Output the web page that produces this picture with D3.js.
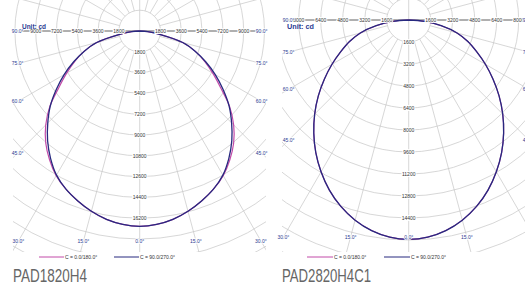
<!DOCTYPE html>
<html>
<head>
<meta charset="utf-8">
<style>
  body { margin: 0; background: #fff; }
  svg { display: block; }
  text { font-family: "Liberation Sans", Arial, sans-serif; }
  .grid line, .grid circle { stroke: #c6c6c6; stroke-width: 0.7; fill: none; }
</style>
</head>
<body>
<svg id="chart" width="525" height="284"></svg>
<script src="https://cdn.jsdelivr.net/npm/d3@7/dist/d3.min.js"></script>
<script>
// gamma angles (deg from nadir) and intensities in cd
var gammaAngles = [0, 5, 10, 15, 20, 25, 30, 35, 40, 45, 50, 55, 60, 65, 70, 75, 80, 85, 90];
var pad1820_c0  = [16900, 16800, 16550, 16150, 15650, 15100, 14450, 13600, 12650, 11500, 10150, 8550, 7300, 6200, 5100, 3850, 1900, 700, 0];
var pad1820_c90 = [16900, 16800, 16550, 16150, 15650, 15100, 14400, 13450, 12400, 11250, 10100, 8800, 7550, 6300, 5100, 3850, 1900, 700, 0];
var pad2820_c0  = [15950, 15850, 15550, 15070, 14430, 13650, 12750, 11780, 10740, 9670, 8580, 7480, 6440, 5450, 4580, 3640, 2400, 1160, 0];
var pad2820_c90 = [15950, 15850, 15550, 15070, 14430, 13650, 12750, 11780, 10740, 9670, 8580, 7480, 6440, 5450, 4580, 3640, 2400, 1160, 0];

var ringsA = [1800, 3600, 5400, 7200, 9000, 10800, 12600, 14400, 16200];
var ringsB = [1600, 3200, 4800, 6400, 8000, 9600, 11200, 12800, 14400];
var bottomAngles = [-30, -15, 0, 15, 30];
var sideAngles = [45, 60, 75, 90];
var legendLabels = ["C = 0.0/180.0°", "C = 90.0/270.0°"];
var models = ["PAD1820H4", "PAD2820H4C1"];

var navy = "#27297f", magenta = "#c24aa8", labelBlue = "#2a3a92";

var svg = d3.select("#chart");
var defs = svg.append("defs");

function drawPolar(id, cfg, rings, c0, c90, model) {
  var step = rings[0];
  var r = d3.scaleLinear().domain([0, step]).range([0, cfg.px]);
  var cx = cfg.cx, cy = cfg.cy;

  defs.append("clipPath").attr("id", "clip" + id)
    .append("rect")
    .attr("x", cfg.x0).attr("y", 0)
    .attr("width", cfg.x1 - cfg.x0).attr("height", cfg.y1);

  var g = svg.append("g");
  var grid = g.append("g").attr("class", "grid").attr("clip-path", "url(#clip" + id + ")");

  // rings
  grid.selectAll("circle")
    .data(d3.range(1, 14).map(function(k) { return k * step; }))
    .enter().append("circle")
    .attr("cx", cx).attr("cy", cy)
    .attr("r", function(d) { return r(d); });

  // radial lines every 15 deg
  var spokes = d3.range(-165, 181, 15);
  grid.selectAll("line.spoke")
    .data(spokes)
    .enter().append("line")
    .attr("class", "spoke")
    .attr("x1", function(a) { var r0 = a % 90 === 0 ? 0 : r(step); return cx + r0 * Math.sin(a * Math.PI / 180); })
    .attr("y1", function(a) { var r0 = a % 90 === 0 ? 0 : r(step); return cy + r0 * Math.cos(a * Math.PI / 180); })
    .attr("x2", function(a) { return cx + 400 * Math.sin(a * Math.PI / 180); })
    .attr("y2", function(a) { return cy + 400 * Math.cos(a * Math.PI / 180); });

  // horizontal axis
  g.append("line")
    .attr("x1", cfg.x0 + 2).attr("x2", cfg.x1 - 2)
    .attr("y1", cy).attr("y2", cy)
    .attr("stroke", "#555").attr("stroke-width", 0.8);

  // curves
  var line = d3.lineRadial()
    .angle(function(d) { return Math.PI - d[0] * Math.PI / 180; })
    .radius(function(d) { return r(d[1]); })
    .curve(d3.curveCatmullRom);

  function both(vals) {
    var pts = [];
    for (var i = gammaAngles.length - 1; i > 0; i--) pts.push([-gammaAngles[i], vals[i]]);
    for (var j = 0; j < gammaAngles.length; j++) pts.push([gammaAngles[j], vals[j]]);
    return pts;
  }

  var curves = g.append("g").attr("transform", "translate(" + cx + "," + cy + ")");
  curves.append("path").attr("d", line(both(c0)))
    .attr("fill", "none").attr("stroke", magenta).attr("stroke-width", 1.2);
  curves.append("path").attr("d", line(both(c90)))
    .attr("fill", "none").attr("stroke", navy).attr("stroke-width", 1.3);

  // ring labels along the vertical axis
  g.selectAll("text.rv")
    .data(rings)
    .enter().append("text")
    .attr("class", "rv")
    .attr("x", cx).attr("y", function(d) { return cy + r(d) + 1.8; })
    .attr("text-anchor", "middle")
    .attr("font-size", 5).attr("fill", "#333")
    .attr("stroke", "#fff").attr("stroke-width", 2).attr("paint-order", "stroke")
    .text(function(d) { return d; });

  // ring labels along the horizontal axis
  var hvals = rings.slice(0, 5);
  var hdata = hvals.map(function(d) { return [-1, d]; }).concat(hvals.map(function(d) { return [1, d]; }));
  g.selectAll("text.rh")
    .data(hdata)
    .enter().append("text")
    .attr("class", "rh")
    .attr("x", function(d) { return cx + d[0] * r(d[1]); }).attr("y", cy + 1.8)
    .attr("text-anchor", "middle")
    .attr("font-size", 5).attr("fill", "#333")
    .attr("stroke", "#fff").attr("stroke-width", 2).attr("paint-order", "stroke")
    .text(function(d) { return d[1]; });

  // angle labels
  var side = [];
  sideAngles.forEach(function(a) { side.push([-1, a]); side.push([1, a]); });
  g.selectAll("text.as")
    .data(side)
    .enter().append("text")
    .attr("class", "as")
    .attr("x", function(d) { return cx + d[0] * cfg.side; })
    .attr("y", function(d) { return cy + (d[1] === 90 ? 0 : cfg.side / Math.tan(d[1] * Math.PI / 180)) + 1.8; })
    .attr("text-anchor", "middle")
    .attr("font-size", 5).attr("fill", labelBlue)
    .attr("stroke", "#fff").attr("stroke-width", 1.5).attr("paint-order", "stroke")
    .text(function(d) { return d[1].toFixed(1) + "°"; });

  g.selectAll("text.ab")
    .data(bottomAngles)
    .enter().append("text")
    .attr("class", "ab")
    .attr("x", function(a) { return cx + (cfg.by - cy) * Math.tan(a * Math.PI / 180); })
    .attr("y", cfg.by + 1.8)
    .attr("text-anchor", "middle")
    .attr("font-size", 5).attr("fill", labelBlue)
    .attr("stroke", "#fff").attr("stroke-width", 1.5).attr("paint-order", "stroke")
    .text(function(a) { return Math.abs(a).toFixed(1) + "°"; });

  // unit
  g.append("text")
    .attr("x", cfg.ux).attr("y", 29)
    .attr("font-size", 8).attr("font-weight", "bold").attr("fill", labelBlue)
    .attr("textLength", cfg.uw).attr("lengthAdjust", "spacingAndGlyphs")
    .text("Unit: cd");

  // legend
  var leg = g.append("g");
  [magenta, navy].forEach(function(col, i) {
    var lx = cfg.legend[i];
    leg.append("line")
      .attr("x1", lx).attr("x2", lx + cfg.legLen)
      .attr("y1", 257).attr("y2", 257)
      .attr("stroke", col).attr("stroke-width", 1);
    leg.append("text")
      .attr("x", lx + cfg.legLen + 1).attr("y", 258.8)
      .attr("font-size", 5).attr("fill", "#333")
      .text(legendLabels[i]);
  });

  // model name
  svg.append("text")
    .attr("x", cfg.x0).attr("y", 282)
    .attr("font-family", "Roboto, 'DejaVu Sans', sans-serif")
    .attr("font-weight", 300)
    .attr("font-size", 18).attr("fill", "#666")
    .attr("textLength", cfg.tw).attr("lengthAdjust", "spacingAndGlyphs")
    .text(model);
}

drawPolar("A", { cx: 139.7, cy: 31, px: 20.8, x0: 13, x1: 266, y1: 252, by: 241, side: 122,
                 ux: 22, uw: 24, legend: [39, 114], legLen: 25, tw: 74 },
          ringsA, pad1820_c0, pad1820_c90, models[0]);

drawPolar("B", { cx: 408.7, cy: 20, px: 22, x0: 282, x1: 535, y1: 252, by: 237, side: 120,
                 ux: 287, uw: 27, legend: [307, 384], legLen: 26, tw: 89 },
          ringsB, pad2820_c0, pad2820_c90, models[1]);
</script>
</body>
</html>
